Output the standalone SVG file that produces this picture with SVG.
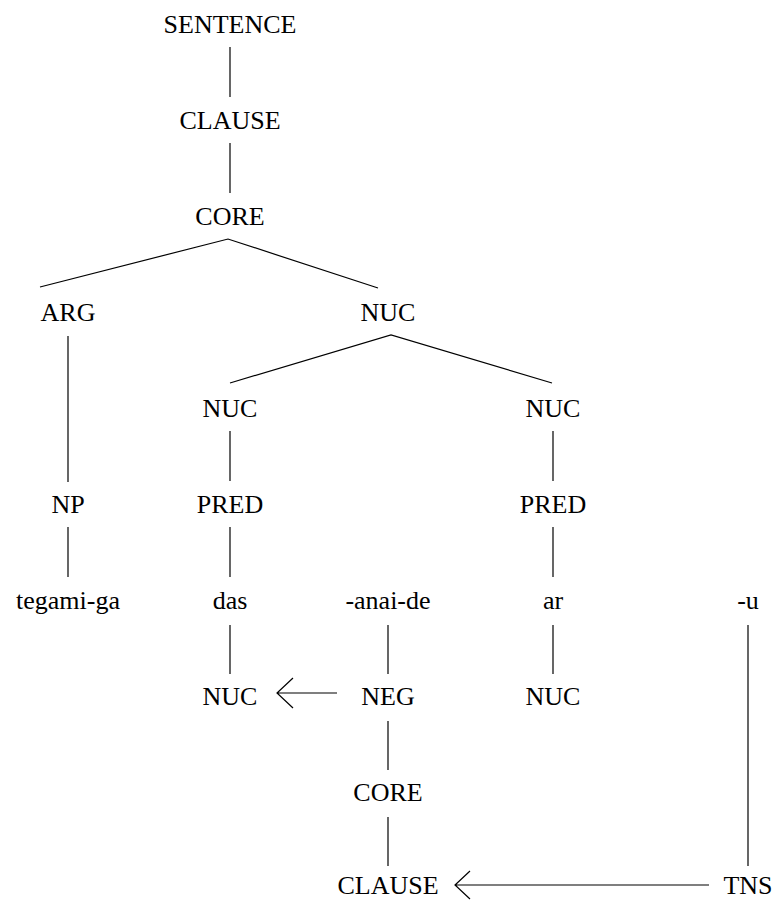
<svg xmlns="http://www.w3.org/2000/svg" width="776" height="900" viewBox="0 0 776 900">
  <style>
    text { font-family: "Liberation Serif", "Times New Roman", serif; font-size: 26px; fill: #000; text-anchor: middle; }
    .edge { stroke: #000; stroke-width: 1.2; fill: none; }
  </style>
  <rect width="776" height="900" fill="#fff"/>

  <g id="connectors">
    <!-- spine -->
    <line class="edge" x1="230" y1="47" x2="230" y2="97"/>
    <line class="edge" x1="230" y1="143" x2="230" y2="193"/>
    <!-- CORE branches -->
    <polyline class="edge" points="40,287 228,239 378,288"/>
    <!-- ARG to NP -->
    <line class="edge" x1="68" y1="336" x2="68" y2="482"/>
    <!-- NUC branches -->
    <polyline class="edge" points="230,383 391,335 552,383"/>
    <line class="edge" x1="230" y1="431" x2="230" y2="481"/>
    <line class="edge" x1="553" y1="431" x2="553" y2="481"/>
    <line class="edge" x1="68" y1="527" x2="68" y2="577"/>
    <line class="edge" x1="230" y1="527" x2="230" y2="577"/>
    <line class="edge" x1="553" y1="527" x2="553" y2="577"/>
    <!-- morphemes to operators -->
    <line class="edge" x1="230" y1="625" x2="230" y2="674"/>
    <line class="edge" x1="388" y1="625" x2="388" y2="674"/>
    <line class="edge" x1="553" y1="625" x2="553" y2="674"/>
    <line class="edge" x1="748" y1="625" x2="748" y2="866"/>
    <line class="edge" x1="388" y1="721" x2="388" y2="770"/>
    <line class="edge" x1="388" y1="817" x2="388" y2="866"/>
    <!-- scope arrows -->
    <path class="edge" d="M337,693 H277 M293,678 L277,693 L293,708"/>
    <path class="edge" d="M709,885 H455 M470,871 L455,885 L470,899"/>
  </g>

  <g id="n-sentence"><text x="230" y="33">SENTENCE</text></g>
  <g id="n-clause"><text x="230" y="129">CLAUSE</text></g>
  <g id="n-core"><text x="230" y="225">CORE</text></g>
  <g id="n-arg"><text x="68" y="321">ARG</text></g>
  <g id="n-nuc"><text x="388" y="321">NUC</text></g>
  <g id="n-nuc1"><text x="230" y="417">NUC</text></g>
  <g id="n-nuc2"><text x="553" y="417">NUC</text></g>
  <g id="n-np"><text x="68" y="513">NP</text></g>
  <g id="n-pred1"><text x="230" y="513">PRED</text></g>
  <g id="n-pred2"><text x="553" y="513">PRED</text></g>
  <g id="n-tegami"><text x="68" y="609">tegami-ga</text></g>
  <g id="n-das"><text x="230" y="609">das</text></g>
  <g id="n-anai"><text x="388" y="609">-anai-de</text></g>
  <g id="n-ar"><text x="553" y="609">ar</text></g>
  <g id="n-u"><text x="748" y="609">-u</text></g>
  <g id="n-nucop1"><text x="230" y="705">NUC</text></g>
  <g id="n-neg"><text x="388" y="705">NEG</text></g>
  <g id="n-nucop2"><text x="553" y="705">NUC</text></g>
  <g id="n-coreop"><text x="388" y="801">CORE</text></g>
  <g id="n-clauseop"><text x="388" y="894">CLAUSE</text></g>
  <g id="n-tns"><text x="748" y="894">TNS</text></g>
</svg>
